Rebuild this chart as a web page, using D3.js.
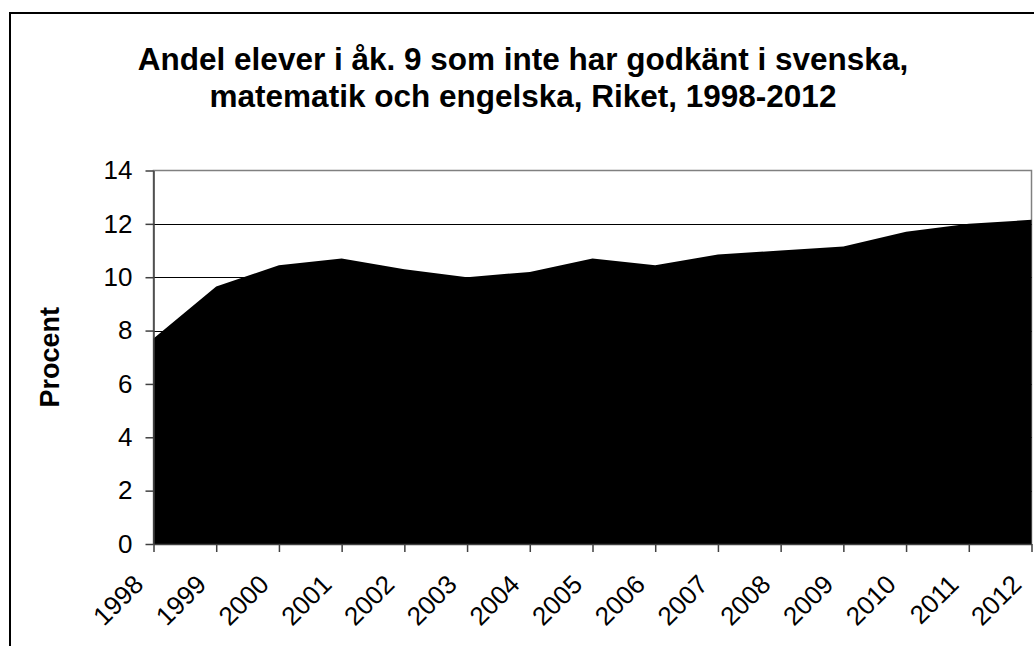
<!DOCTYPE html>
<html>
<head>
<meta charset="utf-8">
<script src="https://cdn.jsdelivr.net/npm/d3@7"></script>
<style>
  html, body { margin: 0; padding: 0; background: #fff; }
  svg { display: block; font-family: "Liberation Sans", Arial, sans-serif; }
</style>
</head>
<body>
<svg id="chart" width="1034" height="646"></svg>
<script>
// values
var years = [1998, 1999, 2000, 2001, 2002, 2003, 2004, 2005, 2006, 2007, 2008, 2009, 2010, 2011, 2012];
var andel = [7.7, 9.65, 10.45, 10.7, 10.3, 10.0, 10.2, 10.7, 10.45, 10.85, 11.0, 11.15, 11.7, 12.0, 12.15];
var yTicks = [0, 2, 4, 6, 8, 10, 12, 14];
var titleLines = ['Andel elever i åk. 9 som inte har godkänt i svenska,', 'matematik och engelska, Riket, 1998-2012'];
var yTitle = 'Procent';

var svg = d3.select('#chart');

var plot = { left: 153.5, right: 1031.5, top: 170.5, bottom: 544 };

var x = d3.scaleLinear()
  .domain([years[0], years[years.length - 1]])
  .range([plot.left, plot.right]);

var y = d3.scaleLinear()
  .domain([0, 14])
  .range([plot.bottom, plot.top]);

// chart frame (runs off the right and bottom edge in the reference)
svg.append('rect')
  .attr('x', 10)
  .attr('y', 13)
  .attr('width', 1100)
  .attr('height', 700)
  .attr('fill', '#fff')
  .attr('stroke', '#000')
  .attr('stroke-width', 2);

// title
svg.append('text')
  .attr('text-anchor', 'middle')
  .attr('font-weight', 'bold')
  .attr('font-size', 31.5)
  .selectAll('tspan')
  .data(titleLines)
  .enter()
  .append('tspan')
  .attr('x', 523)
  .attr('y', function(d, i) { return 70 + i * 37; })
  .text(function(d) { return d; });

// plot area border
svg.append('rect')
  .attr('x', plot.left)
  .attr('y', plot.top)
  .attr('width', plot.right - plot.left)
  .attr('height', plot.bottom - plot.top)
  .attr('fill', '#fff')
  .attr('stroke', '#808080')
  .attr('stroke-width', 1.5);

// gridlines
svg.append('g')
  .selectAll('line')
  .data(yTicks.filter(function(d) { return d > 0 && d < 14; }))
  .enter()
  .append('line')
  .attr('x1', plot.left)
  .attr('x2', plot.right)
  .attr('y1', function(d) { return Math.round(y(d)) + 0.5; })
  .attr('y2', function(d) { return Math.round(y(d)) + 0.5; })
  .attr('stroke', '#000')
  .attr('stroke-width', 1);

// the area
var area = d3.area()
  .x(function(d, i) { return x(years[i]); })
  .y0(y(0))
  .y1(function(d) { return y(d); });

svg.append('path')
  .datum(andel)
  .attr('d', area)
  .attr('fill', '#000');

// y axis
var yAxis = svg.append('g')
  .attr('transform', 'translate(' + plot.left + ',0)')
  .call(d3.axisLeft(y).tickValues(yTicks).tickSize(8).tickPadding(13).tickSizeOuter(0));
yAxis.select('.domain').attr('stroke', '#404040').attr('stroke-width', 1.5);
yAxis.selectAll('.tick line').attr('stroke', '#404040').attr('stroke-width', 1.5);
yAxis.selectAll('.tick text')
  .attr('font-size', 26)
  .attr('font-family', '"Liberation Sans", Arial, sans-serif')
  .attr('fill', '#000');

// x axis
var xAxis = svg.append('g')
  .attr('transform', 'translate(0,' + plot.bottom + ')')
  .call(d3.axisBottom(x).tickValues(years).tickFormat(d3.format('d')).tickSize(8).tickSizeOuter(0));
xAxis.select('.domain').attr('stroke', '#404040').attr('stroke-width', 1.5);
xAxis.selectAll('.tick line').attr('stroke', '#404040').attr('stroke-width', 1.5);
xAxis.selectAll('.tick text')
  .attr('font-size', 26)
  .attr('font-family', '"Liberation Sans", Arial, sans-serif')
  .attr('fill', '#000')
  .attr('text-anchor', 'end')
  .attr('dy', null)
  .attr('y', 0)
  .attr('transform', 'translate(-9,42) rotate(-45)');

// y axis title
svg.append('text')
  .attr('transform', 'translate(59,' + ((plot.top + plot.bottom) / 2) + ') rotate(-90)')
  .attr('text-anchor', 'middle')
  .attr('font-weight', 'bold')
  .attr('font-size', 27)
  .text(yTitle);
</script>
</body>
</html>
